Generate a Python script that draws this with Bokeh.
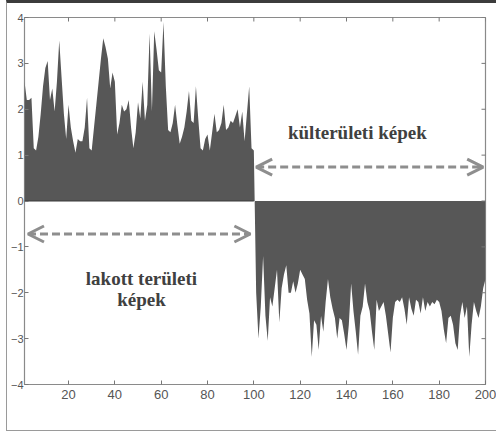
from bokeh.plotting import figure
from bokeh.models import Arrow, OpenHead, Range1d, FixedTicker, Label
from bokeh.embed import file_html
from bokeh.resources import INLINE

# ---- data ----
image_index = list(range(1, 201))

urban_scores = [
    2.6, 2.2, 2.2, 2.25, 1.15, 1.1, 1.4, 1.9, 2.5, 2.9,
    3.05, 2.2, 2.45, 1.95, 2.6, 3.5, 2.7, 1.9, 1.35, 2.1,
    1.6, 1.3, 1.05, 1.35, 1.3, 1.3, 1.6, 2.25, 1.15, 1.1,
    1.6, 2.1, 2.6, 3.1, 3.55, 3.35, 3.1, 2.45, 2.8, 2.6,
    1.45, 1.7, 2.1, 1.95, 2.0, 2.2, 1.6, 1.15, 1.5, 2.15,
    1.8, 2.6, 1.75, 2.1, 3.65, 1.95, 3.7, 3.3, 2.85, 2.8,
    3.9, 2.5, 1.55, 1.5, 1.7, 2.1, 1.65, 1.25, 1.4, 1.6,
    1.95, 2.4, 1.75, 1.7, 2.5, 1.8, 1.15, 1.1, 1.35, 1.45,
    1.1, 1.5, 1.9, 1.5, 1.55, 1.7, 2.1, 1.55, 1.6, 1.75,
    1.7, 1.85, 2.0, 1.6, 1.95, 1.3, 1.9, 2.5, 1.15, 1.1,
]

rural_scores = [
    -2.0, -3.0, -2.3, -1.2, -2.5, -3.05, -2.1, -2.3, -1.9, -1.5,
    -2.65, -1.9, -1.6, -1.4, -2.0, -2.0, -1.75, -2.0, -1.8, -1.5,
    -1.6, -1.7, -2.15, -2.45, -3.4, -2.6, -2.7, -3.25, -2.5, -2.85,
    -2.2, -1.7, -2.1, -2.35, -2.55, -3.0, -2.55, -2.6, -2.9, -3.25,
    -2.7, -1.8, -2.4, -2.85, -3.35, -2.5, -2.3, -1.8, -2.2, -2.4,
    -2.85, -3.25, -2.15, -2.4, -2.3, -2.2, -2.5, -2.9, -3.3, -2.55,
    -2.2, -2.15, -2.2, -2.1, -2.35, -2.7, -2.1, -2.35, -2.5, -2.15,
    -2.2, -2.45, -2.1, -2.4, -2.2, -2.3, -2.2, -2.25, -2.15, -2.2,
    -2.4, -2.8, -3.1, -2.55, -2.5, -2.7, -3.1, -3.25, -2.5, -2.2,
    -2.55, -2.3, -3.4, -2.7, -2.2, -2.4, -2.55, -2.3, -1.9, -1.7,
]

scores = urban_scores + rural_scores

x_ticks = [20, 40, 60, 80, 100, 120, 140, 160, 180, 200]
y_ticks = [-4, -3, -2, -1, 0, 1, 2, 3, 4]
x_min, x_max = 1, 200
y_min, y_max = -4, 4

rural_label = "külterületi képek"
urban_label_lines = ["lakott területi", "képek"]

# ---- figure ----
p = figure(width=490, height=431,
           x_range=Range1d(x_min, x_max), y_range=Range1d(y_min, y_max),
           output_backend="svg", toolbar_location=None,
           min_border_left=16, min_border_right=12,
           min_border_top=14, min_border_bottom=50)
p.styles = {"margin-left": "6px",
            "border-top": "3px solid #3c3c3c",
            "border-left": "1px solid #9a9a9a",
            "border-right": "none",
            "border-bottom": "1px solid #9a9a9a"}

p.xgrid.visible = False
p.ygrid.visible = False
p.outline_line_color = "#8a8a8a"
p.outline_line_width = 1.2
p.background_fill_color = "white"
p.border_fill_color = "white"

area_color = "#575757"
p.varea(x=image_index, y1=0, y2=scores, fill_color=area_color)
p.line(x=[image_index[0], image_index[len(urban_scores) - 1]], y=[0, 0],
       line_color="#3a3a3a", line_width=1.2)

tick_color = "#777777"

def style_axis(ax, size):
    ax.major_tick_in = 4
    ax.major_tick_out = 0
    ax.minor_tick_line_color = None
    ax.major_tick_line_color = tick_color
    ax.axis_line_color = None
    ax.major_label_text_font = "Liberation Sans"
    ax.major_label_text_font_size = size
    ax.major_label_text_color = "#555555"

style_axis(p.xaxis[0], "13px")
p.xaxis[0].ticker = FixedTicker(ticks=x_ticks)
p.xaxis[0].major_label_standoff = 5

style_axis(p.yaxis[0], "11px")
p.yaxis[0].ticker = FixedTicker(ticks=y_ticks)
p.yaxis[0].major_label_standoff = 1

# inward ticks on the top and right edges (MATLAB box style)
p.scatter(x=x_ticks, y=[y_max] * len(x_ticks), marker="dash", angle=1.5708,
          size=8, line_color=tick_color, line_width=1)
p.scatter(x=[x_max] * len(y_ticks), y=y_ticks, marker="dash",
          size=8, line_color=tick_color, line_width=1)

# ---- arrows ----
arrow_color = "#8e8e8e"
def head():
    return OpenHead(size=16, line_width=3, line_color=arrow_color)

p.add_layout(Arrow(start=head(), end=head(),
                   x_start=101, y_start=0.74, x_end=199, y_end=0.74,
                   line_color=arrow_color, line_width=3, line_dash="8 4"))
p.add_layout(Arrow(start=head(), end=head(),
                   x_start=2.5, y_start=-0.72, x_end=98.5, y_end=-0.72,
                   line_color=arrow_color, line_width=3, line_dash="8 4"))

# ---- labels ----
font = "Liberation Serif"
label_style = dict(text_font=font, text_font_style="bold",
                   text_font_size="19px", text_color="#404040",
                   text_align="center", text_baseline="middle")
p.add_layout(Label(x=144.7, y=1.49, text=rural_label, **label_style))
p.add_layout(Label(x=51.5, y=-1.68, text=urban_label_lines[0], **label_style))
p.add_layout(Label(x=51.5, y=-2.14, text=urban_label_lines[1], **label_style))

open("out.html", "w").write(file_html(p, INLINE))
